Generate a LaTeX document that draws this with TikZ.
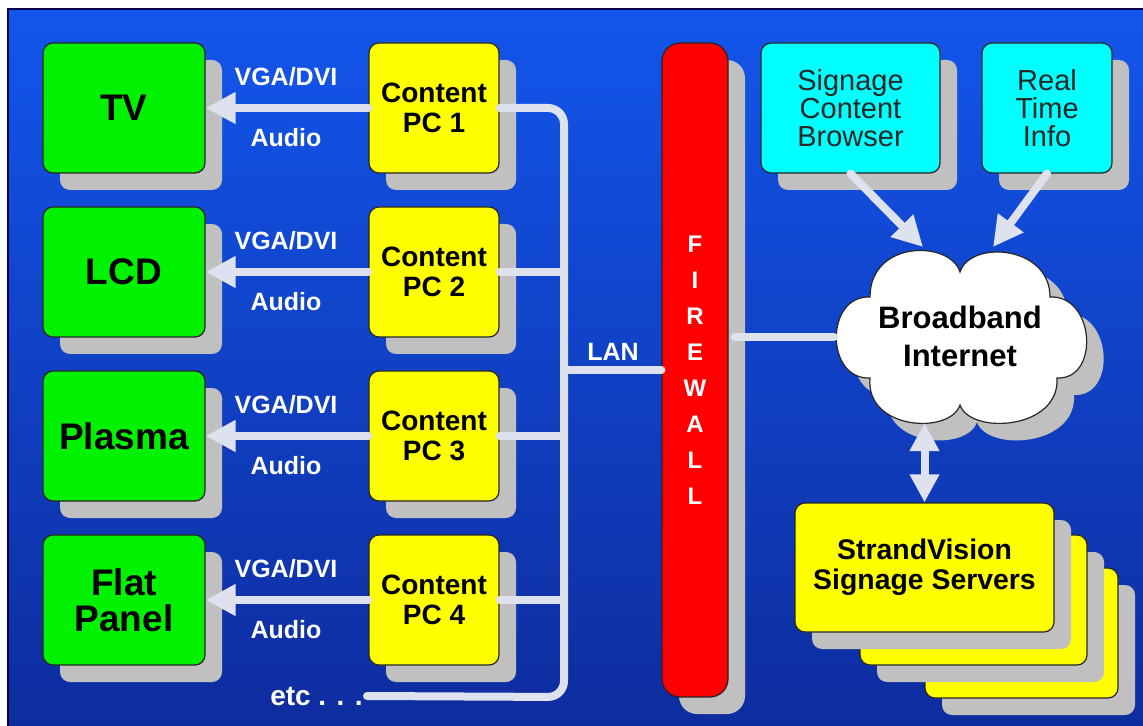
\documentclass[tikz,border=0pt]{standalone}
\usepackage{fontspec}
\setmainfont{Liberation Sans}
\usetikzlibrary{arrows.meta,shadows}

\definecolor{bgtop}{RGB}{18,86,236}
\definecolor{bgbot}{RGB}{14,44,158}
\definecolor{wire}{RGB}{222,226,238}
\definecolor{shade}{RGB}{192,192,192}
\definecolor{scrgreen}{RGB}{0,242,0}
\definecolor{pcyellow}{RGB}{255,255,0}
\definecolor{srccyan}{RGB}{0,255,255}
\definecolor{fwred}{RGB}{255,0,0}

\begin{document}
\begin{tikzpicture}[x=0.5pt,y=-0.5pt,
  shadowed/.style={drop shadow={shadow xshift=8.5pt,shadow yshift=-8.5pt,fill=shade,opacity=1}},
  box/.style={draw=black!85,line width=0.6pt,rounded corners=5pt,align=center,inner sep=0pt,shadowed},
  screen/.style={box,fill=scrgreen,minimum width=81pt,minimum height=65pt,font=\fontsize{18.5}{18}\selectfont\bfseries},
  player/.style={box,fill=pcyellow,minimum width=65pt,minimum height=65pt,font=\fontsize{14}{15}\selectfont\bfseries},
  source/.style={box,fill=srccyan,minimum height=65pt,text=black!85,font=\fontsize{14.5}{14}\selectfont},
  server/.style={box,fill=pcyellow,minimum height=65pt},
  lbl/.style={text=white,inner sep=2pt,font=\fontsize{12.5}{14}\selectfont\bfseries},
  cable/.style={draw=wire,line width=4pt,line cap=round},
  feed/.style={cable,-{Triangle[width=15pt,length=15pt]}},
  duplex/.style={cable,{Triangle[width=14pt,length=14pt]}-{Triangle[width=14pt,length=14pt]}}]

  \useasboundingbox (0,0) rectangle (1143,726);
  \fill[white] (0,0) rectangle (1143,726);
  \shade[top color=bgtop,bottom color=bgbot] (8,9) rectangle (1143,726);
  \draw[black!70!blue,line width=1pt] (8,726) -- (8,9) -- (1143,9);

  % displays and players
  \foreach \scr/\yy/\i in {TV/108/1,LCD/272/2,Plasma/436/3,{Flat\\Panel}/600/4}{
    \node[screen] (scr\i) at (124,\yy) {\scr};
    \node[player] (pc\i) at (434,\yy) {Content\\PC \i};
    \draw[feed] (pc\i.west) -- (scr\i.east);
    \node[lbl] (vga\i) at (286,\yy-31) {VGA/DVI};
    \node[lbl] (aud\i) at (286,\yy+30) {Audio};
  }

  % LAN
  \coordinate (bus) at (564,697);
  \node[lbl,anchor=east,font=\fontsize{14}{14}\selectfont\bfseries] (etc) at (367,696) {etc . . .};
  \draw[cable,rounded corners=8pt] (pc1.east) -| (bus) -- (etc.east);
  \foreach \i in {2,3,4} \draw[cable] (pc\i.east) -- (pc\i.east -| bus);

  \node[box,fill=fwred,rounded corners=9pt,minimum width=33pt,minimum height=327pt,
        text=white,font=\fontsize{12}{18}\selectfont\bfseries] (fw) at (695,370) {F\\I\\R\\E\\W\\A\\L\\L};
  \draw[cable] (fw.west -| bus) -- (fw.west);
  \node[lbl] (lan) at (613,352) {LAN};

  % internet
  \path[draw=black!85,line width=0.6pt,fill=white,shadowed]
    (960,272) .. controls (970,240) and (1050,245) .. (1050,297)
    .. controls (1095,295) and (1100,380) .. (1057,378)
    .. controls (1060,430) and (970,435) .. (960,405)
    .. controls (950,435) and (865,430) .. (870,378)
    .. controls (825,380) and (825,295) .. (870,297)
    .. controls (870,240) and (950,240) .. (960,272) -- cycle;
  \node[font=\fontsize{15.5}{19}\selectfont\bfseries,align=center] (inet) at (960,336) {Broadband\\Internet};
  \coordinate (cloudw) at (834,337);
  \coordinate (cloudl) at (923,247);
  \coordinate (cloudr) at (993,247);
  \coordinate (clouds) at (924.5,423);
  \draw[cable,shorten <=3pt] (fw.east |- cloudw) -- (cloudw);

  \node[source,minimum width=89.5pt] (scb) at (850.5,108) {Signage\\Content\\Browser};
  \node[source,minimum width=65pt] (rti) at (1047,108) {Real\\Time\\Info};
  \draw[feed] (scb.south) -- (cloudl);
  \draw[feed] (rti.south) -- (cloudr);

  % servers
  \node[server,minimum width=96.5pt] (srv3) at (1021.5,633) {};
  \node[server,minimum width=113.5pt] (srv2) at (973.5,600) {};
  \node[server,minimum width=129.5pt,minimum height=64.5pt,
        font=\fontsize{14.2}{15}\selectfont\bfseries] (srv1) at (924.5,567.5) {StrandVision\\Signage Servers};
  \draw[duplex] (clouds) -- (srv1.north);
\end{tikzpicture}
\end{document}
